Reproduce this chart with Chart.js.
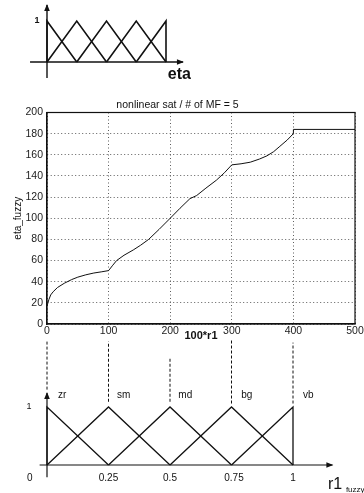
<!DOCTYPE html>
<html><head><meta charset="utf-8">
<script src="https://cdn.jsdelivr.net/npm/chart.js@4.4.0/dist/chart.umd.min.js"></script>
<style>
html,body{margin:0;padding:0;background:#fff;width:364px;height:493px;overflow:hidden;position:relative;}
canvas{position:absolute;left:0;}
#c1{top:0;} #c2{top:95px;} #c3{top:330px;}
</style></head><body>
<canvas id="c1" width="200" height="90"></canvas>
<canvas id="c2" width="364" height="250"></canvas>
<canvas id="c3" width="364" height="163"></canvas>
<script>
// ---------- data ----------
const mainTitle = 'nonlinear sat / # of MF = 5';
const xAxisLabel = '100*r1';
const yAxisLabel = 'eta_fuzzy';
const r1Scaled = [0, 3, 6, 10, 17, 28, 40, 50, 63, 76, 88, 100, 106, 113, 125, 140, 152, 165, 182, 200, 216, 232, 243, 258, 275, 288, 300, 315, 330, 345, 357, 368, 378, 390, 400, 400, 500];
const etaFuzzy = [17, 23, 27.5, 30.5, 34.5, 38.5, 42, 44.3, 46.5, 48.2, 49.3, 50.5, 55, 60, 65, 70, 74.5, 80, 89.5, 100, 109.5, 118.5, 121.5, 128.5, 136, 143, 150.5, 151.5, 153, 156, 159, 163, 168, 174, 180, 184, 184];
const xTicks = [0, 100, 200, 300, 400, 500];
const yTicks = [0, 20, 40, 60, 80, 100, 120, 140, 160, 180, 200];

// membership functions of eta (top) and r1_fuzzy (bottom)
const etaCenters = [0, 1, 2, 3, 4];
const etaAxisX = [-0.57, 4.57];
const etaAxisY = [-0.39, 1.39];
const r1Centers = [0, 0.25, 0.5, 0.75, 1];
const mfNames = ['zr', 'sm', 'md', 'bg', 'vb'];
const r1TickLabels = ['0', '0.25', '0.5', '0.75', '1'];
const r1TickPos = [-0.07, 0.25, 0.5, 0.76, 1];
const r1AxisX = [-0.03, 1.16];
const r1AxisY = [-0.21, 1.24];
const connectorBottom = [1.3, 1.09, 1.09, 1.06, 1.06];
const connectorTop = [2.16, 2.13, 1.84, 2.16, 2.11];

// ---------- helpers ----------
const F = '"Liberation Sans", Arial, Helvetica, sans-serif';
const INK = '#111';
function triangles(centers) {
  return centers.map((c, i) => {
    const l = i > 0 ? centers[i - 1] : c;
    const r = i < centers.length - 1 ? centers[i + 1] : c;
    return [{x: l, y: 0}, {x: c, y: 1}, {x: r, y: 0}];
  });
}
function lineDs(pts, w, dash) {
  return {data: pts, borderColor: INK, borderWidth: w, pointRadius: 0, tension: 0, fill: false, borderDash: dash || [], clip: false};
}
function makeAnnot(arrows, texts) {
  return {
    id: 'annot',
    afterDatasetsDraw(chart) {
      const {ctx} = chart, x = chart.scales.x, y = chart.scales.y;
      ctx.save();
      ctx.fillStyle = INK;
      arrows.forEach(a => {
        const px = x.getPixelForValue(a.x), py = y.getPixelForValue(a.y);
        ctx.beginPath();
        if (a.dir === 'up') { ctx.moveTo(px, py - 1); ctx.lineTo(px - 2.8, py + 6); ctx.lineTo(px + 2.8, py + 6); }
        else { ctx.moveTo(px + 1, py); ctx.lineTo(px - 6, py - 2.8); ctx.lineTo(px - 6, py + 2.8); }
        ctx.closePath(); ctx.fill();
      });
      texts.forEach(t => {
        ctx.font = t.font; ctx.textAlign = t.align || 'center'; ctx.textBaseline = 'middle';
        ctx.fillText(t.text, x.getPixelForValue(t.x), y.getPixelForValue(t.y));
      });
      ctx.restore();
    }
  };
}
const hidden = {display: false};

// ---------- top: eta membership functions ----------
const topDs = triangles(etaCenters).map(p => lineDs(p, 1.6));
topDs.push(lineDs([{x: etaAxisX[0], y: 0}, {x: etaAxisX[1], y: 0}], 1.4));
topDs.push(lineDs([{x: 0, y: etaAxisY[0]}, {x: 0, y: etaAxisY[1]}], 1.4));
new Chart(document.getElementById('c1'), {
  type: 'line',
  data: {datasets: topDs},
  options: {
    responsive: false, animation: false, devicePixelRatio: 1,
    layout: {padding: {left: 17.25, right: 4.25, top: 4.6, bottom: 11.6}},
    plugins: {legend: hidden, tooltip: {enabled: false}},
    scales: {x: {type: 'linear', min: -1, max: 5, display: false}, y: {type: 'linear', min: -0.4, max: 1.4, display: false}}
  },
  plugins: [makeAnnot(
    [{x: 0, y: etaAxisY[1], dir: 'up'}, {x: etaAxisX[1], y: 0, dir: 'right'}],
    [{text: '1', x: -0.34, y: 1.0, font: 'bold 9px ' + F},
     {text: 'eta', x: 4.45, y: -0.3, font: 'bold 16px ' + F}]
  )]
});

// ---------- middle: main chart ----------
const boxPlugin = {
  id: 'box',
  afterDraw(chart) {
    const {ctx, chartArea: a} = chart;
    ctx.save(); ctx.strokeStyle = INK; ctx.lineWidth = 1.2;
    ctx.strokeRect(a.left, a.top, a.right - a.left, a.bottom - a.top);
    ctx.restore();
  }
};
const tickFont = {family: F, size: 10.5};
new Chart(document.getElementById('c2'), {
  type: 'line',
  data: {datasets: [{data: r1Scaled.map((x, i) => ({x, y: etaFuzzy[i]})), borderColor: INK, borderWidth: 1, pointRadius: 0, tension: 0, fill: false}]},
  options: {
    responsive: false, animation: false, devicePixelRatio: 1,
    layout: {padding: {left: 0, right: 9, top: 0, bottom: 1}},
    plugins: {
      legend: hidden, tooltip: {enabled: false},
      title: {display: true, text: mainTitle, color: INK, font: {family: F, size: 10.5, weight: 'normal'}, padding: {top: 3.7, bottom: 1.2}}
    },
    scales: {
      x: {
        type: 'linear', min: 0, max: 500,
        afterBuildTicks: s => { s.ticks = xTicks.map(v => ({value: v})); },
        ticks: {autoSkip: false, maxRotation: 0, padding: 1, color: '#222', font: tickFont},
        grid: {color: '#333', lineWidth: 0.8, drawTicks: false},
        border: {display: true, color: INK, width: 1.2, dash: [1, 2.5]},
        title: {display: true, text: xAxisLabel, color: INK, font: {family: F, size: 11, weight: 'bold'}, padding: {top: 0, bottom: 1.2}},
        afterFit: s => { s.height = 20; s.paddingLeft = 0; s.paddingRight = 0; }
      },
      y: {
        type: 'linear', min: 0, max: 200,
        afterBuildTicks: s => { s.ticks = yTicks.map(v => ({value: v})); },
        ticks: {autoSkip: false, padding: 4, color: '#222', font: tickFont},
        grid: {color: '#333', lineWidth: 0.8, drawTicks: false},
        border: {display: true, color: INK, width: 1.2, dash: [1, 2.5]},
        title: {display: true, text: yAxisLabel, color: INK, font: {family: F, size: 10, weight: 'normal'}, padding: {top: 12, bottom: 0}},
        afterFit: s => { s.width = 47; s.paddingTop = 0; s.paddingBottom = 0; }
      }
    }
  },
  plugins: [boxPlugin]
});

// ---------- bottom: r1_fuzzy membership functions ----------
const botDs = triangles(r1Centers).map(p => lineDs(p, 1.3));
botDs.push(lineDs([{x: r1AxisX[0], y: 0}, {x: r1AxisX[1], y: 0}], 1.2));
botDs.push(lineDs([{x: 0, y: r1AxisY[0]}, {x: 0, y: r1AxisY[1]}], 1.2));
r1Centers.forEach((c, i) => botDs.push(lineDs([{x: c, y: connectorBottom[i]}, {x: c, y: connectorTop[i]}], 1, [3, 2])));
const botTexts = [];
mfNames.forEach((n, i) => botTexts.push({text: n, x: r1Centers[i] + 0.062, y: 1.2, font: '10px ' + F}));
r1TickLabels.forEach((t, i) => botTexts.push({text: t, x: r1TickPos[i], y: -0.224, font: '10px ' + F}));
botTexts.push({text: '1', x: -0.073, y: 1.0, font: '9px ' + F});
botTexts.push({text: 'r1', x: 1.142, y: -0.345, font: '16px ' + F, align: 'left'});
botTexts.push({text: 'fuzzy', x: 1.215, y: -0.43, font: '8px ' + F, align: 'left'});
new Chart(document.getElementById('c3'), {
  type: 'line',
  data: {datasets: botDs},
  options: {
    responsive: false, animation: false, devicePixelRatio: 1,
    layout: {padding: {left: 22.4, right: 21.8, top: 1.6, bottom: 10.6}},
    plugins: {legend: hidden, tooltip: {enabled: false}},
    scales: {x: {type: 'linear', min: -0.1, max: 1.2, display: false}, y: {type: 'linear', min: -0.3, max: 2.3, display: false}}
  },
  plugins: [makeAnnot(
    [{x: 0, y: r1AxisY[1], dir: 'up'}, {x: r1AxisX[1], y: 0, dir: 'right'}],
    botTexts
  )]
});
</script>
</body></html>
